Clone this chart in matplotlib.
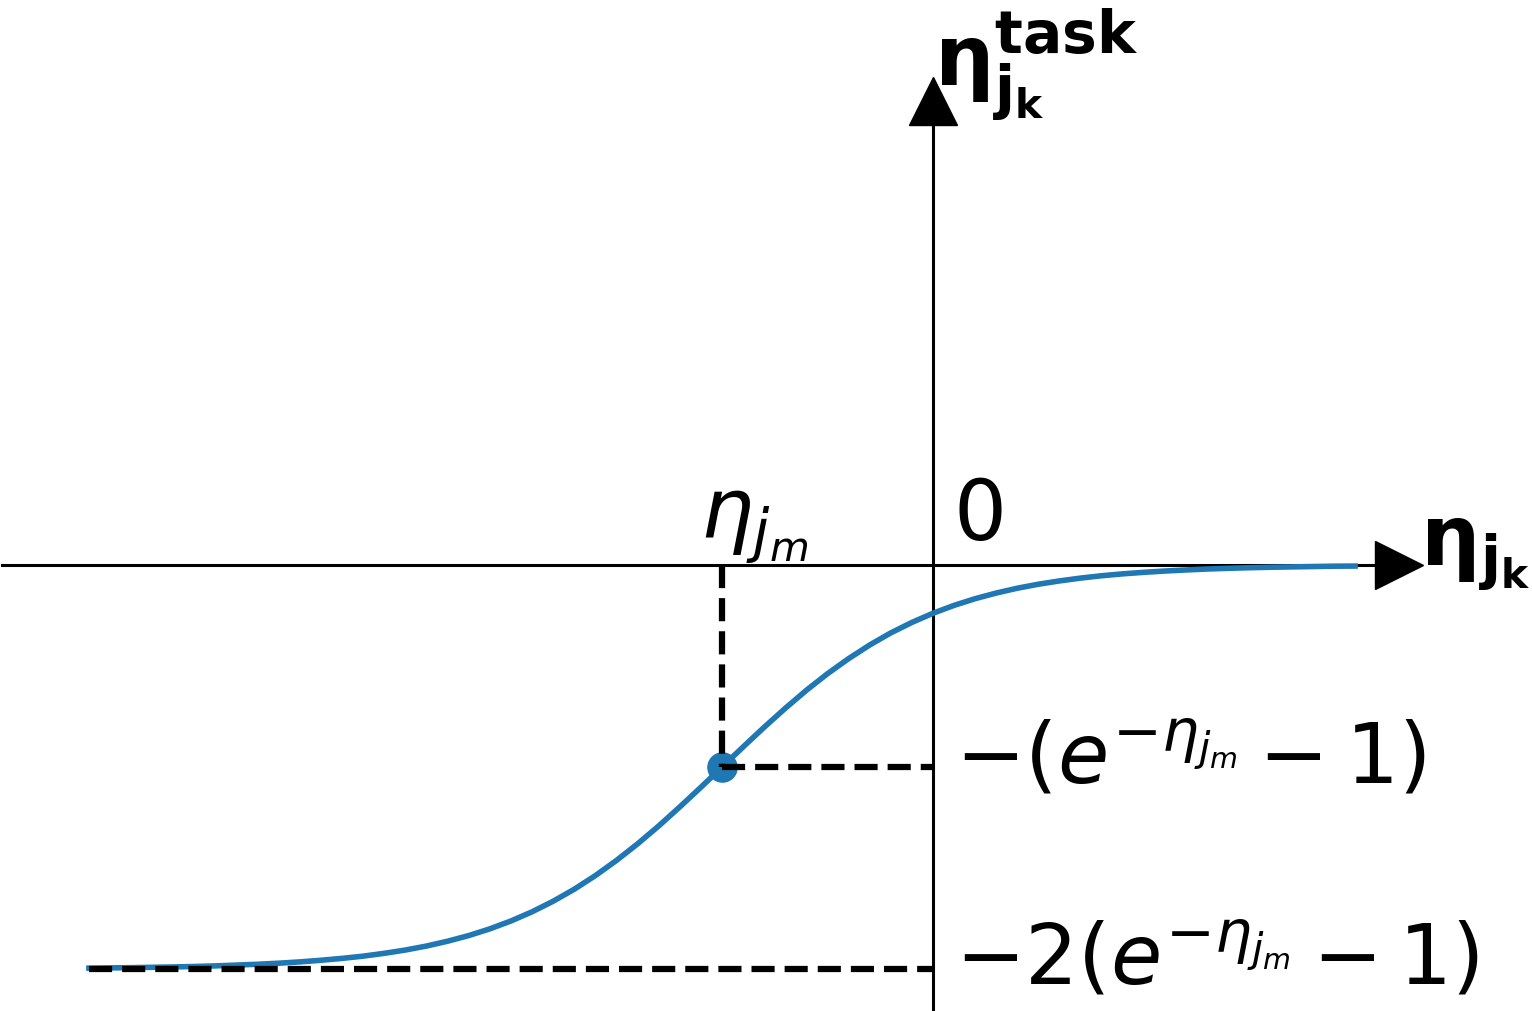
import matplotlib
matplotlib.use("Agg")
import matplotlib.pyplot as plt

# curve (x in eta units, y in eta_task units)
curve_x = [-4.0, -3.9, -3.8, -3.7, -3.6, -3.5, -3.4, -3.3, -3.2, -3.1,
           -3.0, -2.9, -2.8, -2.7, -2.6, -2.5, -2.4, -2.3, -2.2, -2.1,
           -2.0, -1.9, -1.8, -1.7, -1.6, -1.5, -1.4, -1.3, -1.2, -1.1,
           -1.0, -0.9, -0.8, -0.7, -0.6, -0.5, -0.4, -0.3, -0.2, -0.1,
           0.0, 0.1, 0.2, 0.3, 0.4, 0.5, 0.6, 0.7, 0.8, 0.9,
           1.0, 1.1, 1.2, 1.3, 1.4, 1.5, 1.6, 1.7, 1.8, 1.9, 2.0]
curve_y = [-3.428, -3.426, -3.424, -3.421, -3.418, -3.414, -3.409, -3.402, -3.395, -3.386,
           -3.375, -3.361, -3.345, -3.326, -3.302, -3.274, -3.240, -3.199, -3.151, -3.094,
           -3.027, -2.949, -2.859, -2.757, -2.641, -2.512, -2.371, -2.219, -2.057, -1.890,
           -1.718, -1.547, -1.379, -1.218, -1.065, -0.924, -0.796, -0.680, -0.577, -0.488,
           -0.410, -0.343, -0.286, -0.238, -0.197, -0.163, -0.135, -0.111, -0.091, -0.075,
           -0.062, -0.051, -0.042, -0.034, -0.028, -0.023, -0.019, -0.016, -0.013, -0.010, -0.009]

eta_m = -1.0          # marked point
level_1 = -1.718      # -(e^{-eta_m} - 1)
level_2 = -3.437      # -2(e^{-eta_m} - 1)
x_left = -4.0

lbl_level_1 = r"$-(e^{-\eta_{j_m}}-1)$"
lbl_level_2 = r"$-2(e^{-\eta_{j_m}}-1)$"
lbl_eta_m = r"$\eta_{j_m}$"
lbl_x = r"$\mathbf{\eta_{j_k}}$"
lbl_y = r"$\mathbf{\eta_{j_k}^{task}}$"

blue = "#1f77b4"
fs = 60

fig = plt.figure(figsize=(15.32, 10.11), dpi=100)
ax = fig.add_axes([0.0013, 0.001, 0.9116, 0.8991])
ax.set_xlim(-4.412, 2.206)
ax.set_ylim(-3.784, 3.946)

# axes through the origin with arrow heads
for s in ["top", "right"]:
    ax.spines[s].set_visible(False)
ax.spines["left"].set_position(("data", 0))
ax.spines["bottom"].set_position(("data", 0))
ax.spines["left"].set_linewidth(2.2)
ax.spines["bottom"].set_linewidth(2.2)
ax.set_xticks([])
ax.set_yticks([])
ax.plot(1, 0, ">k", ms=34, transform=ax.get_yaxis_transform(), clip_on=False)
ax.plot(0, 1, "^k", ms=34, transform=ax.get_xaxis_transform(), clip_on=False)

ax.plot(curve_x, curve_y, color=blue, lw=4.0, clip_on=False, zorder=3)
ax.plot([eta_m], [level_1], "o", color=blue, ms=21, zorder=3)

# guide lines
ax.plot([eta_m, eta_m], [0, level_1], "k--", lw=4.5, zorder=4)
ax.plot([eta_m, 0], [level_1, level_1], "k--", lw=4.5, zorder=4)
ax.plot([x_left, 0], [level_2, level_2], "k--", lw=4.5, zorder=4)

ax.annotate("0", xy=(0, 0), xytext=(15, 18), textcoords="offset points",
            fontsize=fs, ha="left", va="baseline")
ax.annotate(lbl_eta_m, xy=(eta_m, 0), xytext=(-16, 19), textcoords="offset points",
            fontsize=fs, ha="left", va="baseline")
ax.annotate(lbl_level_1, xy=(0, level_1), xytext=(15.5, -11.5), textcoords="offset points",
            fontsize=fs, ha="left", va="baseline")
ax.annotate(lbl_level_2, xy=(0, level_2), xytext=(15.5, -11), textcoords="offset points",
            fontsize=fs, ha="left", va="baseline")
ax.annotate(lbl_x, xy=(1, 0), xycoords=ax.get_yaxis_transform(), xytext=(15.5, 0),
            textcoords="offset points", fontsize=fs, ha="left", va="baseline",
            annotation_clip=False)
ax.annotate(lbl_y, xy=(0, 1), xycoords=ax.get_xaxis_transform(), xytext=(1, 11),
            textcoords="offset points", fontsize=fs, ha="left", va="baseline",
            annotation_clip=False)

fig.savefig("out.png", dpi=100)
